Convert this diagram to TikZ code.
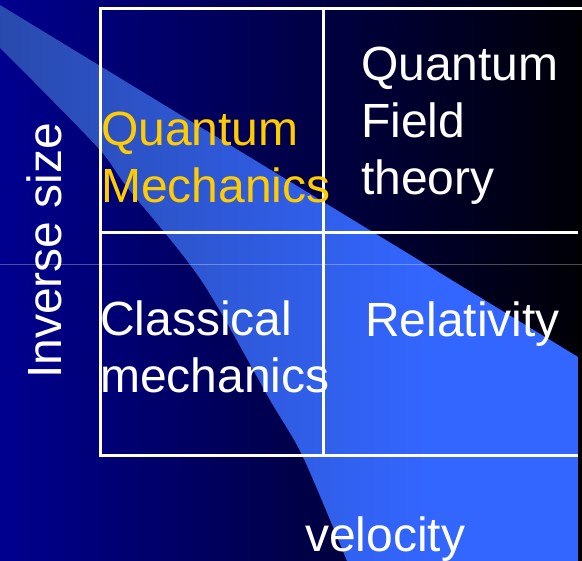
\documentclass[tikz,border=0pt]{standalone}
\usepackage{fontspec}
\setmainfont{Liberation Sans}
\pgfdeclarehorizontalshading{bgshade}{100bp}{rgb(0bp)=(0,0,0.56); rgb(25bp)=(0,0,0.56); rgb(75bp)=(0,0,0.02); rgb(100bp)=(0,0,0.02)}
\pgfdeclarehorizontalshading{bandshade}{100bp}{rgb(0bp)=(0.16,0.29,0.68); rgb(25bp)=(0.16,0.29,0.68); rgb(62bp)=(0.2,0.4,1); rgb(100bp)=(0.2,0.4,1)}
\definecolor{qmyellow}{RGB}{255,204,0}
\begin{document}
\begin{tikzpicture}[x=1pt,y=-1pt,
  gridline/.style={draw=white, line width=3pt},
  lbl/.style={font=\fontsize{48}{57}\selectfont, text=white, inner sep=0pt, anchor=base west, align=left}]
\useasboundingbox (0,0) rectangle (582,561);
% background
\shade[shading=bgshade] (0,0) rectangle (582,561);
% swoosh band
\shade[shading=bandshade] (0,5) -- (578,357) -- (578,561) -- (347,561)
  -- plot[smooth, tension=0.5] coordinates {(347,561) (303,457) (270,400) (201,280) (127,187) (100,150) (35,83) (0,48)} -- cycle;
% right border strip
\fill[black] (578,23) rectangle (582,561);
% faint scan line
\draw[white, opacity=0.3, line width=0.8pt] (0,264) -- (582,264);
% grid
\coordinate (tl) at (100,9);
\coordinate (tr) at (582,9);
\coordinate (bl) at (100,456);
\coordinate (br) at (578,456);
\coordinate (ml) at (100,233);
\coordinate (mr) at (578,233);
\coordinate (mt) at (323.5,9);
\coordinate (mb) at (323.5,456);
\draw[gridline] (tr) -- (tl) -- (bl) -- (br);
\draw[gridline] (ml) -- (mr);
\draw[gridline] (mt) -- (mb);
% labels (base anchor = baseline of the last line)
\node[lbl, text=qmyellow] (qm) at (101,203) {Quantum\\Mechanics};
\node[lbl] (qft) at (361,195) {Quantum\\Field\\theory};
\node[lbl] (cm) at (100,393) {Classical\\mechanics};
\node[lbl] (rel) at (365,337) {Relativity};
\node[lbl] (vel) at (305,552) {velocity};
\node[lbl, rotate=90] (inv) at (61,379) {Inverse size};
\end{tikzpicture}
\end{document}
